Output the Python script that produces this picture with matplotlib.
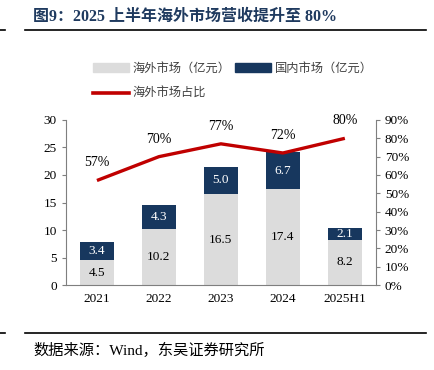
import matplotlib
matplotlib.use('Agg')
import numpy as np
from matplotlib import pyplot as plt
from matplotlib.lines import Line2D
from matplotlib.patches import Patch

plt.rcParams['font.family'] = ['Liberation Serif', 'Noto Sans CJK SC', 'DejaVu Sans']

# 数据
years = ['2021', '2022', '2023', '2024', '2025H1']
overseas = [4.5, 10.2, 16.5, 17.4, 8.2]      # 海外市场（亿元）
domestic = [3.4, 4.3, 5.0, 6.7, 2.1]         # 国内市场（亿元）
share = [0.57, 0.70, 0.77, 0.72, 0.80]       # 海外市场占比
share_labels = ['57%', '70%', '77%', '72%', '80%']

gray = '#DCDCDC'
navy = '#17375E'
red = '#C00000'

fig = plt.figure(figsize=(4.34, 3.7), dpi=100)
ax = fig.add_axes([0.152, 0.2297, 0.714, 0.446])
ax2 = ax.twinx()

x = np.arange(len(years))
w = 0.56
ax.bar(x, overseas, w, color=gray, zorder=2)
ax.bar(x, domestic, w, bottom=overseas, color=navy, zorder=2)

for i in range(len(years)):
    ax.text(x[i], overseas[i] / 2, '%.1f' % overseas[i], ha='center', va='center',
            fontsize=9.5, color='black', zorder=3)
    ax.text(x[i], overseas[i] + domestic[i] / 2, '%.1f' % domestic[i], ha='center',
            va='center', fontsize=9.5, color='white', zorder=3)

ax.set_ylim(0, 30)
ax.set_yticks(range(0, 31, 5))
ax.set_xlim(-0.5, len(years) - 0.5)
ax.set_xticks(x)
ax.set_xticklabels(years)

ax2.plot(x, share, color=red, lw=2.4, zorder=4, solid_capstyle='butt')
for i in range(len(years)):
    ax2.annotate(share_labels[i], (x[i], share[i]), xytext=(0, 8),
                 textcoords='offset points', ha='center', va='bottom', fontsize=10)
ax2.set_ylim(0, 0.9)
ax2.set_yticks(np.arange(0, 0.91, 0.1))
ax2.set_yticklabels(['%d%%' % round(v * 100) for v in np.arange(0, 0.91, 0.1)])

for a in (ax, ax2):
    a.spines['top'].set_visible(False)
    a.tick_params(labelsize=9.5, colors='black', length=3, color='#7F7F7F', width=0.8)
    for s in a.spines.values():
        s.set_color('#7F7F7F')
        s.set_linewidth(0.8)
ax.tick_params(axis='x', length=0, pad=6)
ax2.spines['left'].set_visible(False)
ax.spines['right'].set_visible(False)
ax2.spines['bottom'].set_visible(False)

handles = [Patch(color=gray), Line2D([], [], color=red, lw=2.6), Patch(color=navy)]
labels = ['海外市场（亿元）', '海外市场占比', '国内市场（亿元）']
fig.legend(handles, labels, ncol=2, loc='upper left', bbox_to_anchor=(0.19, 0.86),
           frameon=False, fontsize=8.8, handlelength=2.9, handleheight=0.65,
           columnspacing=0.4, handletextpad=0.3, labelspacing=1.1,
           labelcolor='#404040')

fig.text(0.076, 0.955, '图9：2025 上半年海外市场营收提升至 80%', fontsize=11.5,
         fontweight='bold', color='#1F3A5F', va='center')
fig.add_artist(Line2D([0.058, 0.982], [0.919, 0.919], color='black', lw=1.2))
fig.add_artist(Line2D([0.0, 0.012], [0.919, 0.919], color='black', lw=1.2))
fig.add_artist(Line2D([0.058, 0.982], [0.1, 0.1], color='black', lw=1.2))
fig.add_artist(Line2D([0.0, 0.012], [0.1, 0.1], color='black', lw=1.2))
fig.text(0.076, 0.052, '数据来源：Wind，东吴证券研究所', fontsize=11, color='black',
         va='center')

fig.savefig('out.png', dpi=100)
